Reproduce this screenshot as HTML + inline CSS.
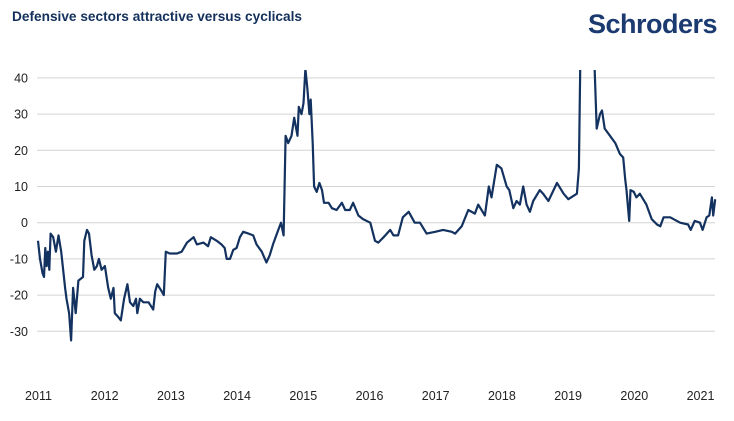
<!DOCTYPE html>
<html><head><meta charset="utf-8"><style>
body{margin:0;background:#fff;width:734px;height:416px;overflow:hidden;font-family:"Liberation Sans",sans-serif}
</style></head><body>
<svg width="734" height="416">
<text x="12" y="21" font-size="13.5" font-weight="bold" fill="#13305c" textLength="290" lengthAdjust="spacingAndGlyphs">Defensive sectors attractive versus cyclicals</text>
<text x="717" y="33" text-anchor="end" font-size="27" font-weight="bold" fill="#1b3a70" letter-spacing="-0.5">Schroders</text>
<g id="grid"></g><g id="ylab"></g><g id="xlab"></g>
<defs><clipPath id="clip"><rect x="30" y="70" width="700" height="300"/></clipPath></defs>
<path id="line" fill="none" stroke="#13325f" stroke-width="2.2" stroke-linejoin="round" clip-path="url(#clip)"/>
</svg>
<script>
const yearsSince2011=[0,0.03,0.07,0.09,0.11,0.13,0.15,0.17,0.19,0.23,0.27,0.31,0.35,0.41,0.43,0.47,0.50,0.53,0.57,0.61,0.68,0.70,0.74,0.77,0.81,0.85,0.89,0.92,0.96,1.01,1.06,1.10,1.14,1.16,1.21,1.25,1.30,1.35,1.39,1.44,1.48,1.50,1.54,1.59,1.67,1.74,1.77,1.80,1.87,1.90,1.93,1.99,2.10,2.17,2.25,2.35,2.40,2.50,2.57,2.61,2.70,2.77,2.82,2.85,2.90,2.95,3.00,3.05,3.10,3.18,3.25,3.30,3.38,3.45,3.50,3.55,3.63,3.67,3.71,3.74,3.78,3.83,3.87,3.92,3.94,3.98,4.01,4.04,4.07,4.10,4.12,4.15,4.17,4.21,4.25,4.29,4.32,4.39,4.44,4.51,4.59,4.64,4.71,4.76,4.84,4.91,5.02,5.09,5.14,5.22,5.32,5.37,5.44,5.51,5.60,5.69,5.77,5.87,6.00,6.12,6.25,6.30,6.40,6.50,6.60,6.65,6.75,6.81,6.85,6.93,7.00,7.08,7.12,7.18,7.23,7.28,7.33,7.38,7.43,7.48,7.58,7.63,7.71,7.84,7.94,8.01,8.14,8.17,8.20,8.39,8.41,8.44,8.49,8.52,8.56,8.64,8.72,8.79,8.84,8.87,8.89,8.93,8.95,9.00,9.04,9.09,9.19,9.27,9.35,9.40,9.45,9.55,9.70,9.82,9.86,9.92,10.00,10.04,10.10,10.14,10.18,10.20,10.23];
const values=[-5,-10,-14,-15,-7,-12,-8,-13,-3,-4,-8,-3.5,-8,-18,-21,-25,-32.5,-18,-25,-16,-15,-5,-2,-3,-9,-13,-12,-10,-13,-12,-18,-21,-18,-25,-26,-27,-21,-17,-22,-23,-21,-25,-21,-22,-22,-24,-19,-17,-19,-20,-8,-8.5,-8.5,-8,-5.5,-4,-6,-5.5,-6.5,-4,-5,-6,-7,-10,-10,-7.5,-7,-4,-2.5,-3,-3.5,-6,-8,-11,-9,-6,-2,0,-3.5,24,22,24,29,24,32,30,33,42.5,37,30,34,22,10,8.5,11,9,5.5,5.5,4,3.5,5.5,3.5,3.5,5.5,2,1,0,-5,-5.5,-4,-2,-3.5,-3.5,1.5,3,0,0,-3,-2.5,-2,-2.5,-3,-1,3.5,2.5,5,2,10,7,16,15,10,9,4,6,5,10,5,3,6,9,8,6,11,8,6.5,8,15,55,55,42,26,30,31,26,24,22,19,18,12,9,0.5,9,8.5,7,8,5,1,-0.5,-1,1.5,1.5,0,-0.5,-2,0.5,0,-2,1.5,2,7,2,6.5];
const yTicks=[40,30,20,10,0,-10,-20,-30];
const xTicks=[2011,2012,2013,2014,2015,2016,2017,2018,2019,2020,2021];
const ns="http://www.w3.org/2000/svg";
const xs=y=>38+(y-2011)*66.2;
const ys=v=>222.7-v*3.62;
const grid=document.getElementById('grid'),yl=document.getElementById('ylab'),xl=document.getElementById('xlab');
yTicks.forEach(t=>{
const l=document.createElementNS(ns,'line');


l.setAttribute('x1',37);l.setAttribute('x2',715);l.setAttribute('y1',ys(t));l.setAttribute('y2',ys(t));
l.setAttribute('stroke','#d4d4d4');l.setAttribute('stroke-width','1');grid.appendChild(l);
const tx=document.createElementNS(ns,'text');


tx.setAttribute('x',28);tx.setAttribute('y',ys(t)+4.5);tx.setAttribute('text-anchor','end');
tx.setAttribute('font-size','12.5');tx.setAttribute('fill','#222');tx.textContent=t;yl.appendChild(tx);
});
xTicks.forEach(t=>{
const tx=document.createElementNS(ns,'text');


tx.setAttribute('x',xs(t)+0.5);tx.setAttribute('y',400);tx.setAttribute('text-anchor','middle');
tx.setAttribute('font-size','12.5');tx.setAttribute('fill','#222');tx.textContent=t;xl.appendChild(tx);
});
document.getElementById('line').setAttribute('d',values.map((v,i)=>(i?'L':'M')+xs(2011+yearsSince2011[i]).toFixed(1)+','+ys(v).toFixed(1)).join(''));
</script>
</body></html>
